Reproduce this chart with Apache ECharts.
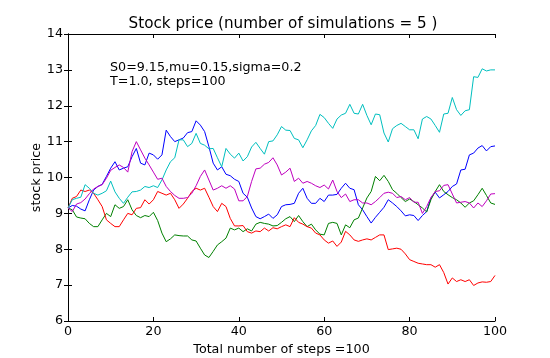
<!DOCTYPE html>
<html>
<head>
<meta charset="utf-8">
<script src="https://cdn.jsdelivr.net/npm/echarts@6/dist/echarts.min.js"></script>
<style>
html,body{margin:0;padding:0;background:#fff;}
#chart{width:550px;height:358px;}
</style>
</head>
<body>
<div id="chart"></div>
<script>
const titleText = "Stock price (number of simulations = 5 )";
const xAxisName = "Total number of steps =100";
const yAxisName = "stock price";
const noteLines = ["S0=9.15,mu=0.15,sigma=0.2", "T=1.0, steps=100"];
const xTicks = [0, 20, 40, 60, 80, 100];
const yTicks = [6, 7, 8, 9, 10, 11, 12, 13, 14];

const blue = [9.15,9.22,9.2,9.12,9.07,9.38,9.65,9.75,9.81,10.03,10.26,10.44,10.21,10.26,10.3,10.58,10.81,10.4,10.35,10.68,
10.63,10.51,10.63,11.32,11.14,11.0,11.05,11.1,11.25,11.28,11.58,11.46,11.28,10.86,10.4,10.21,10.3,10.09,10.05,9.95,
9.89,9.56,9.45,9.15,8.91,8.85,8.91,8.98,8.86,8.96,9.19,9.24,9.25,9.28,9.56,9.7,9.42,9.28,9.28,9.42,
9.33,9.51,9.51,9.53,9.7,9.84,9.7,9.66,9.24,9.1,8.91,8.73,8.89,9.03,9.17,9.38,9.29,9.19,9.07,8.93,
8.96,8.94,8.8,8.94,9.05,9.43,9.59,9.43,9.52,9.61,9.75,9.82,10.21,10.23,10.63,10.68,10.82,10.89,10.74,10.86,10.88];

const green = [9.15,9.1,8.9,8.87,8.85,8.72,8.63,8.63,8.82,9.0,8.91,9.24,9.14,9.19,9.38,9.1,8.94,8.88,8.94,8.91,
9.03,8.8,8.45,8.21,8.29,8.4,8.38,8.37,8.37,8.26,8.23,8.03,7.84,7.77,7.94,8.12,8.21,8.31,8.59,8.54,
8.59,8.49,8.57,8.51,8.7,8.75,8.72,8.7,8.65,8.66,8.75,8.85,8.91,8.77,8.94,8.77,8.63,8.7,8.54,8.42,
8.4,8.72,8.75,8.72,8.4,8.68,8.6,8.82,8.87,9.15,9.43,9.61,10.03,9.91,10.06,9.89,9.66,9.56,9.44,9.33,
9.4,9.33,9.24,9.15,9.04,9.38,9.61,9.8,9.61,9.52,9.44,9.38,9.29,9.17,9.29,9.35,9.52,9.7,9.5,9.29,9.25];

const red = [9.15,9.42,9.47,9.65,9.61,9.65,9.56,9.38,9.19,8.82,8.72,8.63,8.63,8.82,9.0,8.96,9.14,9.16,9.38,9.26,
9.38,9.61,9.56,9.51,9.56,9.38,9.14,9.26,9.42,9.61,9.7,9.65,9.7,9.45,9.19,9.05,9.28,9.19,8.86,8.65,
8.65,8.66,8.49,8.45,8.51,8.49,8.59,8.51,8.6,8.57,8.63,8.68,8.63,8.88,8.75,8.7,8.63,8.59,8.45,8.4,
8.26,8.17,8.23,8.08,8.2,8.5,8.4,8.26,8.22,8.26,8.29,8.26,8.33,8.4,8.4,7.99,8.01,8.03,8.0,7.87,
7.71,7.66,7.61,7.59,7.57,7.57,7.5,7.57,7.35,7.03,7.2,7.1,7.15,7.1,7.15,6.99,7.06,7.09,7.08,7.1,7.27];

const cyan = [9.15,9.38,9.42,9.45,9.8,9.7,9.56,9.51,9.56,9.63,9.9,9.6,9.42,9.28,9.45,9.6,9.61,9.65,9.75,9.72,
9.77,9.72,9.93,10.21,10.44,10.55,11.05,11.05,10.86,10.95,11.23,10.95,10.9,10.8,10.81,10.55,10.3,10.81,10.65,10.54,
10.68,10.46,10.58,10.85,10.98,10.81,10.65,11.0,11.02,11.19,11.42,11.32,11.31,11.09,11.05,10.83,11.05,11.3,11.45,11.76,
11.67,11.51,11.37,11.63,11.74,11.79,12.04,11.79,11.77,12.04,11.73,11.47,11.77,11.75,11.24,10.99,11.36,11.45,11.51,11.42,
11.33,11.33,11.08,11.63,11.7,11.63,11.45,11.26,11.77,11.79,12.23,11.89,11.73,11.86,11.89,12.81,12.79,13.03,12.97,13.0,13.0];

const magenta = [9.15,9.05,9.26,9.3,9.4,9.55,9.68,9.75,9.8,9.98,10.2,10.28,10.35,10.28,10.15,10.72,11.0,10.77,10.54,10.35,
10.15,9.95,9.98,9.75,9.61,9.5,9.42,9.42,9.44,9.56,9.77,10.03,10.21,9.93,9.65,9.7,9.77,9.7,9.77,9.68,
9.35,9.35,9.47,9.89,10.24,10.26,10.37,10.42,10.55,10.35,10.07,10.15,10.26,9.89,9.98,9.84,9.89,9.84,9.77,9.72,
9.79,9.68,9.93,9.61,9.44,9.54,9.33,9.38,9.38,9.29,9.29,9.24,9.33,9.44,9.56,9.59,9.56,9.44,9.47,9.38,
9.44,9.31,9.31,9.0,9.19,9.44,9.61,9.63,9.78,9.8,9.54,9.29,9.31,9.33,9.29,9.15,9.29,9.19,9.35,9.54,9.55];

const seriesList = [
  {name: "sim1", values: blue, color: "#0000ff"},
  {name: "sim2", values: green, color: "#008000"},
  {name: "sim3", values: red, color: "#ff0000"},
  {name: "sim4", values: cyan, color: "#00bfbf"},
  {name: "sim5", values: magenta, color: "#bf00bf"}
];

const FONT = "DejaVu Sans";
const chart = echarts.init(document.getElementById('chart'), null, {renderer: 'canvas'});

const tickStyle = {show: true, inside: true, length: 4, lineStyle: {color: '#000', width: 1}};
const lineStyle = {show: true, lineStyle: {color: '#000', width: 1}};

function xAx(pos, showLabel) {
  return {
    type: 'value', position: pos, min: xTicks[0], max: xTicks[xTicks.length-1], interval: xTicks[1] - xTicks[0],
    axisLine: lineStyle, axisTick: tickStyle, splitLine: {show: false},
    axisLabel: {show: showLabel, color: '#000', fontFamily: FONT, fontSize: 12.7, margin: 4}
  };
}
function yAx(pos, showLabel) {
  return {
    type: 'value', position: pos, min: yTicks[0], max: yTicks[yTicks.length-1], interval: yTicks[1] - yTicks[0],
    axisLine: lineStyle, axisTick: tickStyle, splitLine: {show: false},
    axisLabel: {show: showLabel, color: '#000', fontFamily: FONT, fontSize: 12.7, margin: 5}
  };
}

chart.setOption({
  animation: false,
  backgroundColor: '#fff',
  grid: {left: 68, right: 55, top: 34, bottom: 37, containLabel: false},
  xAxis: [xAx('bottom', true), xAx('top', false)],
  yAxis: [yAx('left', true), yAx('right', false)],
  series: seriesList.map(s => ({
    name: s.name, type: 'line', showSymbol: false, symbol: 'none',
    data: s.values.map((v, i) => [i, v]),
    lineStyle: {color: s.color, width: 1},
    itemStyle: {color: s.color},
    xAxisIndex: 0, yAxisIndex: 0
  })),
  graphic: [
    {type: 'text', x: 283, y: 24.5, style: {text: titleText, font: '15.2px "DejaVu Sans"', fill: '#000', align: 'center', verticalAlign: 'middle'}, z: 10},
    {type: 'text', x: 110, y: 61, style: {text: noteLines.join('\n'), font: '12.7px "DejaVu Sans"', lineHeight: 14, fill: '#000'}, z: 10},
    {type: 'text', x: 281.5, y: 350, style: {text: xAxisName, font: '12.7px "DejaVu Sans"', fill: '#000', align: 'center', verticalAlign: 'middle'}, z: 10},
    {type: 'text', x: 37, y: 177.5, rotation: Math.PI/2, style: {text: yAxisName, font: '12.7px "DejaVu Sans"', fill: '#000', align: 'center', verticalAlign: 'middle'}, z: 10}
  ]
});
</script>
</body>
</html>
